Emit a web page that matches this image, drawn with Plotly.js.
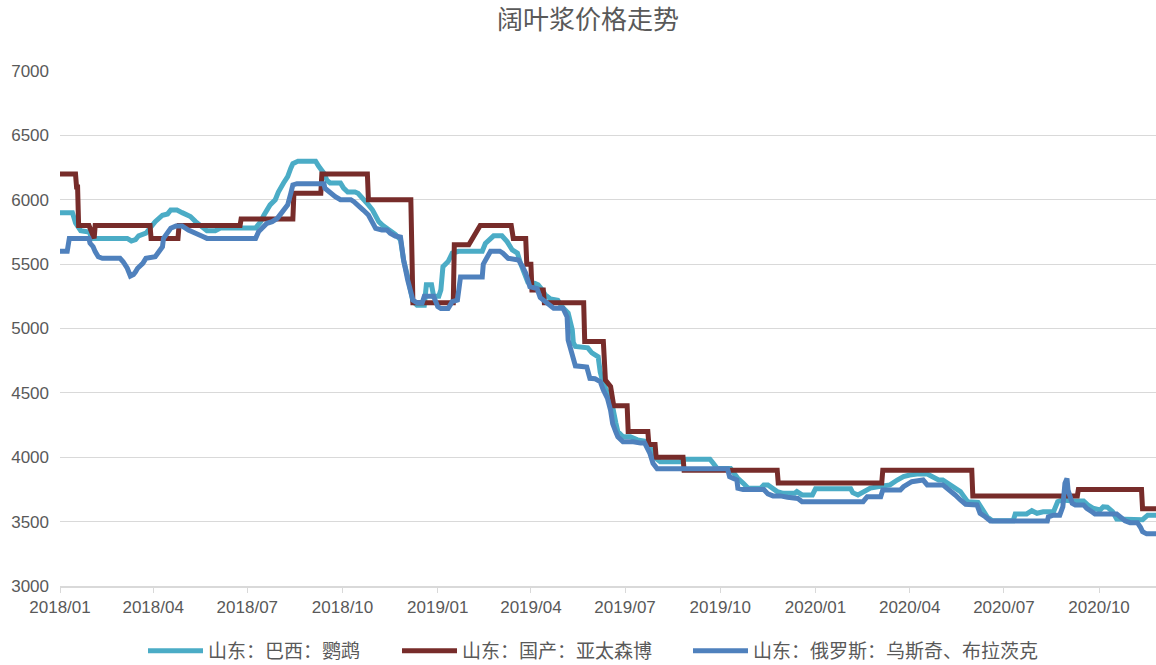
<!DOCTYPE html>
<html>
<head>
<meta charset="utf-8">
<script src="https://cdn.plot.ly/plotly-3.0.1.min.js"></script>
<style>html,body{margin:0;padding:0;background:#fff;}#chart{width:1156px;height:665px;}</style>
</head>
<body>
<div id="chart"></div>
<script>
// 山东：巴西：鹦鹉
const brazilDates = ['2018-01-01','2018-01-13','2018-01-16','2018-01-21','2018-01-29','2018-02-01','2018-03-07','2018-03-11','2018-03-15','2018-03-18','2018-03-25','2018-03-27','2018-04-03','2018-04-10','2018-04-15','2018-04-18','2018-04-24','2018-04-29','2018-05-03','2018-05-07','2018-05-12','2018-05-17','2018-05-23','2018-05-31','2018-06-05','2018-07-09','2018-07-14','2018-07-17','2018-07-23','2018-07-28','2018-07-31','2018-08-05','2018-08-09','2018-08-12','2018-08-14','2018-08-19','2018-09-05','2018-09-08','2018-09-13','2018-09-16','2018-09-19','2018-09-29','2018-10-02','2018-10-06','2018-10-13','2018-10-16','2018-10-21','2018-10-26','2018-10-30','2018-11-02','2018-11-05','2018-11-09','2018-11-16','2018-11-21','2018-11-26','2018-11-29','2018-12-03','2018-12-06','2018-12-08','2018-12-12','2018-12-19','2018-12-21','2018-12-26','2018-12-28','2019-01-02','2019-01-04','2019-01-05','2019-01-06','2019-01-11','2019-01-15','2019-01-21','2019-02-13','2019-02-16','2019-02-21','2019-02-24','2019-03-04','2019-03-09','2019-03-14','2019-03-19','2019-03-22','2019-03-25','2019-03-29','2019-04-05','2019-04-08','2019-04-12','2019-04-15','2019-04-20','2019-04-27','2019-05-01','2019-05-07','2019-05-11','2019-05-12','2019-05-14','2019-05-26','2019-05-30','2019-06-05','2019-06-07','2019-06-10','2019-06-14','2019-06-19','2019-06-22','2019-06-24','2019-06-29','2019-07-06','2019-07-13','2019-07-23','2019-07-27','2019-07-30','2019-08-04','2019-08-23','2019-08-26','2019-09-21','2019-09-24','2019-09-28','2019-10-11','2019-10-14','2019-10-18','2019-10-23','2019-10-28','2019-11-09','2019-11-12','2019-11-16','2019-11-20','2019-11-25','2019-12-01','2019-12-12','2019-12-14','2019-12-19','2019-12-29','2020-01-01','2020-02-04','2020-02-06','2020-02-11','2020-02-16','2020-02-23','2020-03-01','2020-03-06','2020-03-13','2020-03-20','2020-03-26','2020-04-01','2020-04-08','2020-04-18','2020-04-24','2020-04-29','2020-05-03','2020-05-07','2020-05-15','2020-05-20','2020-05-23','2020-05-27','2020-06-06','2020-06-10','2020-06-15','2020-06-20','2020-07-10','2020-07-12','2020-07-23','2020-07-28','2020-08-02','2020-08-08','2020-08-18','2020-08-22','2020-08-26','2020-09-06','2020-09-16','2020-09-20','2020-09-25','2020-10-02','2020-10-05','2020-10-09','2020-10-14','2020-10-18','2020-11-12','2020-11-17','2020-11-25'];
const brazilValues = [5900,5900,5820,5760,5750,5700,5700,5680,5690,5720,5740,5760,5830,5880,5890,5920,5920,5900,5880,5870,5830,5800,5760,5760,5780,5780,5830,5880,5960,6000,6060,6130,6180,6245,6280,6300,6300,6260,6205,6150,6130,6130,6090,6060,6060,6050,6010,5960,5920,5870,5830,5800,5765,5730,5690,5530,5400,5300,5210,5180,5180,5340,5340,5250,5250,5300,5430,5480,5520,5585,5600,5600,5660,5700,5720,5720,5675,5610,5585,5505,5450,5360,5350,5340,5300,5260,5230,5220,5170,5120,4990,4890,4860,4850,4810,4780,4660,4575,4500,4390,4270,4200,4160,4160,4135,4120,4040,3995,3965,3965,3985,3985,3955,3912,3912,3873,3835,3800,3760,3760,3785,3785,3760,3733,3720,3720,3733,3707,3707,3755,3755,3725,3707,3733,3760,3771,3775,3785,3823,3850,3862,3870,3870,3850,3823,3823,3800,3760,3733,3700,3655,3650,3590,3535,3507,3507,3560,3560,3585,3565,3577,3577,3655,3668,3660,3660,3630,3605,3590,3615,3612,3578,3520,3515,3550,3550];

// 山东：国产：亚太森博
const domesticDates = ['2018-01-01','2018-01-16','2018-01-17','2018-01-18','2018-01-19','2018-01-29','2018-02-03','2018-02-04','2018-03-29','2018-03-30','2018-04-25','2018-04-26','2018-06-24','2018-06-25','2018-08-14','2018-08-15','2018-09-10','2018-09-11','2018-10-25','2018-10-26','2018-12-06','2018-12-08','2019-01-16','2019-01-17','2019-01-31','2019-02-11','2019-03-13','2019-03-15','2019-03-27','2019-03-28','2019-04-01','2019-04-02','2019-04-13','2019-04-14','2019-05-22','2019-05-23','2019-06-10','2019-06-12','2019-06-17','2019-06-20','2019-07-03','2019-07-04','2019-07-23','2019-07-24','2019-07-30','2019-07-31','2019-08-26','2019-08-27','2019-11-25','2019-11-26','2020-03-05','2020-03-06','2020-05-31','2020-06-01','2020-09-10','2020-09-11','2020-11-11','2020-11-12','2020-11-25'];
const domesticValues = [6200,6200,6100,6100,5800,5800,5700,5800,5800,5700,5700,5800,5800,5850,5850,6050,6050,6200,6200,6000,6000,5200,5200,5650,5650,5800,5800,5700,5700,5500,5500,5300,5300,5200,5200,4900,4900,4600,4550,4400,4400,4200,4200,4100,4100,4000,4000,3900,3900,3800,3800,3900,3900,3700,3700,3750,3750,3600,3600];

// 山东：俄罗斯：乌斯奇、布拉茨克
const russiaDates = ['2018-01-01','2018-01-08','2018-01-10','2018-01-29','2018-01-30','2018-02-02','2018-02-04','2018-02-07','2018-02-11','2018-02-28','2018-03-03','2018-03-07','2018-03-10','2018-03-13','2018-03-15','2018-03-17','2018-03-22','2018-03-25','2018-04-03','2018-04-06','2018-04-10','2018-04-11','2018-04-15','2018-04-18','2018-04-23','2018-04-29','2018-05-05','2018-05-10','2018-05-14','2018-05-19','2018-05-23','2018-07-09','2018-07-12','2018-07-16','2018-07-20','2018-07-25','2018-07-30','2018-08-04','2018-08-09','2018-08-12','2018-08-14','2018-08-18','2018-09-13','2018-09-14','2018-09-19','2018-09-24','2018-09-29','2018-10-09','2018-10-12','2018-10-16','2018-10-21','2018-10-26','2018-10-30','2018-11-02','2018-11-08','2018-11-13','2018-11-16','2018-11-21','2018-11-26','2018-11-29','2018-12-03','2018-12-06','2018-12-08','2018-12-12','2018-12-17','2018-12-19','2018-12-28','2019-01-01','2019-01-04','2019-01-11','2019-01-15','2019-01-20','2019-01-23','2019-02-13','2019-02-14','2019-02-18','2019-02-21','2019-03-02','2019-03-05','2019-03-10','2019-03-20','2019-03-24','2019-03-27','2019-03-31','2019-04-07','2019-04-10','2019-04-17','2019-04-23','2019-05-02','2019-05-06','2019-05-07','2019-05-11','2019-05-14','2019-05-25','2019-05-28','2019-06-02','2019-06-07','2019-06-10','2019-06-14','2019-06-17','2019-06-19','2019-06-22','2019-06-24','2019-06-29','2019-07-09','2019-07-16','2019-07-20','2019-07-25','2019-07-28','2019-08-01','2019-10-08','2019-10-10','2019-10-17','2019-10-18','2019-10-23','2019-11-12','2019-11-16','2019-11-21','2019-11-28','2019-12-05','2019-12-15','2019-12-19','2020-02-16','2020-02-20','2020-03-04','2020-03-06','2020-03-23','2020-03-26','2020-03-31','2020-04-03','2020-04-14','2020-04-18','2020-05-03','2020-05-10','2020-05-15','2020-05-20','2020-05-25','2020-06-05','2020-06-08','2020-06-13','2020-06-18','2020-08-12','2020-08-13','2020-08-18','2020-08-24','2020-08-27','2020-08-29','2020-08-31','2020-09-01','2020-09-05','2020-09-08','2020-09-16','2020-09-19','2020-09-24','2020-09-27','2020-10-18','2020-10-23','2020-10-26','2020-10-31','2020-11-07','2020-11-10','2020-11-12','2020-11-16','2020-11-25'];
const russiaValues = [5600,5600,5700,5700,5663,5635,5597,5557,5545,5545,5519,5468,5408,5420,5441,5468,5506,5545,5557,5597,5635,5700,5753,5778,5796,5796,5765,5750,5740,5715,5700,5700,5753,5790,5817,5830,5856,5908,5960,6050,6115,6125,6125,6089,6050,6024,6000,6000,5985,5960,5920,5882,5830,5778,5765,5765,5740,5718,5710,5532,5376,5300,5220,5200,5200,5250,5250,5170,5155,5155,5208,5220,5400,5400,5500,5557,5600,5600,5585,5545,5532,5480,5430,5325,5310,5240,5196,5157,5157,5090,4910,4780,4710,4700,4613,4610,4587,4522,4458,4365,4262,4198,4159,4120,4120,4110,4110,4030,3953,3910,3910,3849,3823,3760,3750,3750,3715,3700,3700,3690,3680,3655,3655,3694,3694,3746,3746,3771,3797,3810,3823,3785,3785,3746,3707,3668,3635,3630,3565,3538,3505,3505,3538,3550,3550,3616,3797,3836,3746,3643,3630,3630,3604,3577,3560,3560,3533,3507,3492,3492,3456,3422,3405,3405];

const seriesNames = ['山东：巴西：鹦鹉','山东：国产：亚太森博','山东：俄罗斯：乌斯奇、布拉茨克'];
const tickDates = ['2018-01-01','2018-04-01','2018-07-01','2018-10-01','2019-01-01','2019-04-01','2019-07-01','2019-10-01','2020-01-01','2020-04-01','2020-07-01','2020-10-01'];
const tickLabels = ['2018/01','2018/04','2018/07','2018/10','2019/01','2019/04','2019/07','2019/10','2020/01','2020/04','2020/07','2020/10'];
const yTicks = [3000,3500,4000,4500,5000,5500,6000,6500,7000];

const colors = ['#4BACC6','#772C2A','#4F81BD'];
const legendIds = ['legend','legend2','legend3'];
const legendLeft = [143, 397, 688];
const lw = 5;

const traces = [
  {x: brazilDates, y: brazilValues, name: seriesNames[0]},
  {x: domesticDates, y: domesticValues, name: seriesNames[1]},
  {x: russiaDates, y: russiaValues, name: seriesNames[2]}
].map((t, i) => Object.assign(t, {
  type: 'scatter', mode: 'lines',
  line: {color: colors[i], width: lw, shape: 'linear'},
  legend: legendIds[i],
  hoverinfo: 'x+y+name'
}));

function legendCfg(px) {
  return {
    orientation: 'h',
    x: px / 1156, xref: 'container', xanchor: 'left',
    y: 1 - 651/665, yref: 'container', yanchor: 'middle',
    font: {family: 'Noto Sans CJK SC, sans-serif', size: 19, color: '#595959'},
    itemwidth: 55,
    bgcolor: 'rgba(0,0,0,0)',
    borderwidth: 0
  };
}

const layout = {
  width: 1156, height: 665,
  margin: {l: 60, r: 0, t: 71, b: 79},
  paper_bgcolor: '#ffffff', plot_bgcolor: '#ffffff',
  font: {family: 'Liberation Sans, Arial, sans-serif', color: '#595959', size: 17},
  title: {
    text: '阔叶浆价格走势',
    font: {family: 'Noto Sans CJK SC, sans-serif', size: 26, color: '#595959'},
    x: 588 / 1156, xanchor: 'center', xref: 'container',
    y: 1 - 20/665, yref: 'container', yanchor: 'middle'
  },
  xaxis: {
    type: 'date',
    range: ['2018-01-01', '2020-11-25'],
    tickvals: tickDates, ticktext: tickLabels,
    ticks: 'outside', ticklen: 5, tickcolor: '#d9d9d9', tickwidth: 1,
    showline: true, linecolor: '#d9d9d9', linewidth: 1.5,
    showgrid: false, zeroline: false,
    tickfont: {size: 17, color: '#595959'}
  },
  yaxis: {
    range: [3000, 7000],
    tickvals: yTicks,
    showgrid: true, gridcolor: '#d9d9d9', gridwidth: 1.2,
    zeroline: false, showline: false, ticks: '',
    ticklabelstandoff: 10,
    tickfont: {size: 17, color: '#595959'}
  },
  showlegend: true,
  legend: legendCfg(legendLeft[0]),
  legend2: legendCfg(legendLeft[1]),
  legend3: legendCfg(legendLeft[2])
};

Plotly.newPlot('chart', traces, layout, {displayModeBar: false, staticPlot: true});
</script>
</body>
</html>
